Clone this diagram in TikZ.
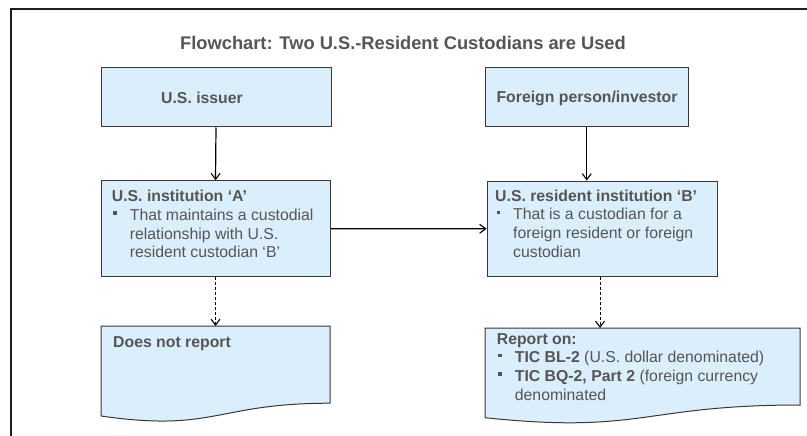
\documentclass[tikz,border=0pt]{standalone}
\usepackage{fontspec}
\setmainfont{Liberation Sans}
\usetikzlibrary{arrows.meta}
\definecolor{boxfill}{RGB}{219,238,252}
\definecolor{boxline}{RGB}{55,55,55}
\definecolor{txt}{RGB}{85,85,85}
\definecolor{framecol}{RGB}{30,30,30}
\newcommand{\sqbul}{\makebox[18pt][l]{\hspace*{1.5pt}\textcolor{txt}{\rule[5.5pt]{3.5pt}{3.5pt}}}}
\newcommand{\bulind}{\hspace*{18pt}}
\tikzset{
  plainbox/.style={draw=boxline, fill=boxfill, line width=1pt, inner sep=0pt, rectangle},
  docshape/.style={draw=boxline, fill=boxfill, line width=1pt},
  boxtext/.style={anchor=base west, inner sep=0pt, text=txt, font=\fontsize{15.8}{18.7}\selectfont},
  centtext/.style={anchor=base, inner sep=0pt, text=txt, font=\fontsize{15.8}{18.7}\selectfont\bfseries},
  titletext/.style={anchor=base, inner sep=0pt, text=txt, font=\fontsize{18.3}{22}\selectfont\bfseries},
  conn/.style={draw=black, line width=1.2pt, -{Straight Barb[length=6pt,width=9pt,line width=1.1pt]}},
  dconn/.style={draw=black, line width=0.9pt, dash pattern=on 3pt off 2pt, -{Straight Barb[length=6pt,width=9pt,line width=1.1pt,sep=0pt]}}
}
\begin{document}
\begin{tikzpicture}[x=1pt,y=-1pt]
\useasboundingbox (0,0) rectangle (807,436);
% outer frame
\draw[framecol, line width=2pt] (11,445) -- (11,9) -- (815,9);
% title
\node[titletext] (title) at (403,50) {Flowchart: Two U.S.-Resident Custodians are Used};
% top boxes
\node[plainbox, minimum width=230pt, minimum height=59pt] (issuer) at (216,97.5) {};
\node[centtext] (issuertxt) at (202,104) {U.S. issuer};
\node[plainbox, minimum width=202.5pt, minimum height=59pt] (foreign) at (586.75,97.5) {};
\node[centtext] (foreigntxt) at (587,102.3) {Foreign person/investor};
% middle boxes
\node[plainbox, minimum width=229pt, minimum height=96pt] (instA) at (215.5,228.7) {};
\node[boxtext] (instAtxt) at (111.7,201.7) {\begin{tabular}[t]{@{}l@{}}
\textbf{U.S. institution ‘A’}\\
\sqbul That maintains a custodial\\
\bulind relationship with U.S.\\
\bulind resident custodian ‘B’
\end{tabular}};
\node[plainbox, minimum width=230pt, minimum height=95.5pt] (instB) at (602,228.75) {};
\node[boxtext] (instBtxt) at (495,201) {\begin{tabular}[t]{@{}l@{}}
\textbf{U.S. resident institution ‘B’}\\
\sqbul That is a custodian for a\\
\bulind foreign resident or foreign\\
\bulind custodian
\end{tabular}};
% bottom document shapes
\draw[docshape] (101,326) -- (330,326) -- (330,403.2)
  .. controls (215.5,403.2) and (215.5,432.5) .. (101,416) -- cycle;
\coordinate (dnrtop) at (215.5,326);
\node[boxtext] (dnrtxt) at (113,347) {\textbf{Does not report}};
\draw[docshape] (485,328) -- (800,328) -- (800,405)
  .. controls (642.5,405) and (642.5,434.3) .. (485,417.7) -- cycle;
\coordinate (reptop) at (600,328);
\node[boxtext] (reptxt) at (496.7,344) {\begin{tabular}[t]{@{}l@{}}
\textbf{Report on:}\\
\sqbul\textbf{TIC BL-2} (U.S. dollar denominated)\\
\sqbul\textbf{TIC BQ-2, Part 2} (foreign currency\\
\bulind denominated
\end{tabular}};
% connectors
\draw[conn] (issuer.south) -- (instA.north);
\draw[conn] (foreign.south) -- (foreign.south |- instB.north);
\draw[conn] (instA.east) -- (instB.west);
\draw[dconn] (instA.south) -- (dnrtop);
\draw[dconn] (reptop |- instB.south) -- (reptop);
\end{tikzpicture}
\end{document}
